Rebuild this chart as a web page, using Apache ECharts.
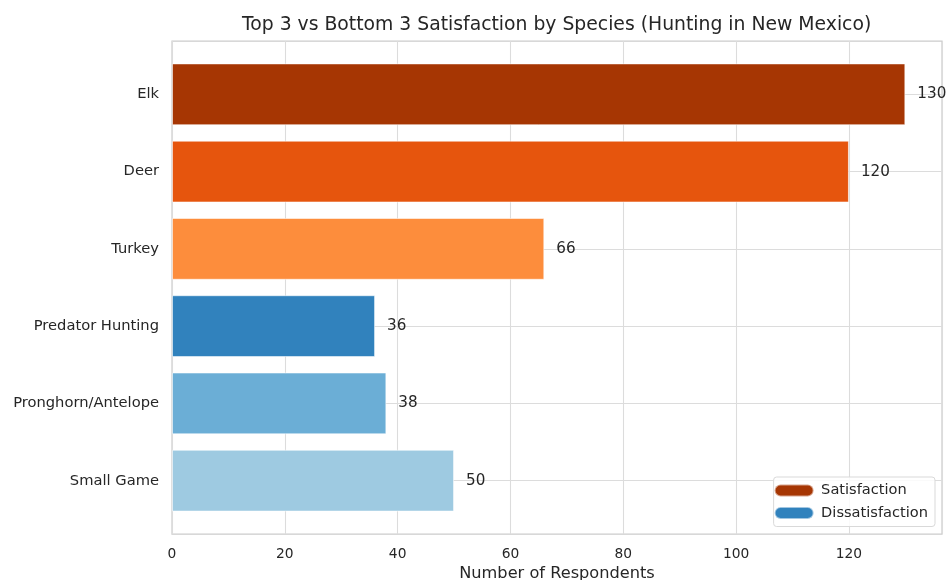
<!DOCTYPE html>
<html>
<head>
<meta charset="utf-8">
<script src="https://cdn.jsdelivr.net/npm/echarts@6/dist/echarts.min.js"></script>
<style>
html,body{margin:0;padding:0;background:#fff;}
#chart{width:947px;height:580px;}
</style>
</head>
<body>
<div id="chart"></div>
<script>
const categories = ['Elk', 'Deer', 'Turkey', 'Predator Hunting', 'Pronghorn/Antelope', 'Small Game'];
const satisfactionValues = [130, 120, 66, null, null, null];
const dissatisfactionValues = [null, null, null, 36, 38, 50];
const barColors = ['#a63603', '#e6550d', '#fd8d3c', '#3182bd', '#6baed6', '#9ecae1'];
const xTicks = [0, 20, 40, 60, 80, 100, 120];
const legendNames = ['Satisfaction', 'Dissatisfaction'];
const legendColors = ['#a63603', '#3182bd'];

const FONT = 'DejaVu Sans';
const TXT = '#262626';

// plot frame geometry
const plotLeft = 172, plotTop = 41, plotW = 770, plotH = 493;
const unitPx = plotH / 6.38;
const barTop = plotTop + (0.69 - 0.5) * unitPx;
const barH = 6 * unitPx;

function toData(vals) {
  return vals.map((v, i) => v == null ? '-' : { value: v, itemStyle: { color: barColors[i] } });
}

const chart = echarts.init(document.getElementById('chart'), null, { renderer: 'canvas' });
chart.setOption({
  animation: false,
  textStyle: { fontFamily: FONT },
  title: {
    text: 'Top 3 vs Bottom 3 Satisfaction by Species (Hunting in New Mexico)',
    left: 237, top: 11,
    textStyle: { fontFamily: FONT, fontSize: 18.8, fontWeight: 'normal', color: TXT }
  },
  legend: {
    orient: 'vertical',
    right: 12, top: 477,
    data: legendNames.map((n, i) => ({ name: n, itemStyle: { color: legendColors[i] } })),
    icon: 'path://M6,0 L33,0 A6,6 0 0 1 33,12 L6,12 A6,6 0 0 1 6,0 Z',
    itemWidth: 40, itemHeight: 12, itemGap: 7.5,
    padding: [6, 7, 6, 0],
    backgroundColor: 'rgba(255,255,255,0.85)',
    borderColor: '#d9d9d9', borderWidth: 1, borderRadius: 3,
    textStyle: { fontFamily: FONT, fontSize: 14.6, color: TXT, padding: [0, 0, 0, 2] },
    selectedMode: false
  },
  grid: [
    { left: plotLeft, top: plotTop, width: plotW, height: plotH, show: true, borderColor: '#cccccc', borderWidth: 1.25, backgroundColor: '#fff', containLabel: false, outerBoundsMode: 'none' },
    { left: plotLeft, top: barTop, width: plotW, height: barH, containLabel: false, outerBoundsMode: 'none' }
  ],
  xAxis: [
    {
      gridIndex: 0, type: 'value', min: 0, max: 136.5, interval: 20,
      axisLine: { show: false }, axisTick: { show: false },
      splitLine: { show: true, lineStyle: { color: '#dcdcdc', width: 1.1 } },
      axisLabel: { fontFamily: FONT, fontSize: 13.8, color: TXT, margin: 13,
        formatter: v => (xTicks.indexOf(v) >= 0 ? String(v) : '') },
      name: 'Number of Respondents', nameLocation: 'middle', nameGap: 30,
      nameTextStyle: { fontFamily: FONT, fontSize: 16.2, color: TXT }
    },
    {
      gridIndex: 1, type: 'value', min: 0, max: 136.5, show: false
    }
  ],
  yAxis: [
    { gridIndex: 0, type: 'value', show: false },
    {
      gridIndex: 1, type: 'category', inverse: true, data: categories,
      axisLine: { show: false }, axisTick: { show: false }, splitLine: { show: false },
      axisLabel: { fontFamily: FONT, fontSize: 14.7, color: TXT, margin: 13 }
    }
  ],
  series: [
    {
      name: 'gridlines', type: 'line', xAxisIndex: 1, yAxisIndex: 1, data: [],
      silent: true,
      markLine: {
        z: 1, silent: true, symbol: ['none', 'none'], label: { show: false },
        lineStyle: { color: '#dcdcdc', width: 1.1, type: 'solid' },
        data: categories.map(c => ({ yAxis: c }))
      }
    },
    {
      name: legendNames[0], type: 'bar', xAxisIndex: 1, yAxisIndex: 1, stack: 'all', z: 3,
      barCategoryGap: '20%',
      itemStyle: { color: legendColors[0], borderColor: 'rgba(255,255,255,0.55)', borderWidth: 1 },
      label: { show: true, position: 'right', distance: 12, fontFamily: FONT, fontSize: 15.2, color: TXT },
      data: toData(satisfactionValues)
    },
    {
      name: legendNames[1], type: 'bar', xAxisIndex: 1, yAxisIndex: 1, stack: 'all', z: 3,
      barCategoryGap: '20%',
      itemStyle: { color: legendColors[1], borderColor: 'rgba(255,255,255,0.55)', borderWidth: 1 },
      label: { show: true, position: 'right', distance: 12, fontFamily: FONT, fontSize: 15.2, color: TXT },
      data: toData(dissatisfactionValues)
    }
  ]
});
</script>
</body>
</html>
